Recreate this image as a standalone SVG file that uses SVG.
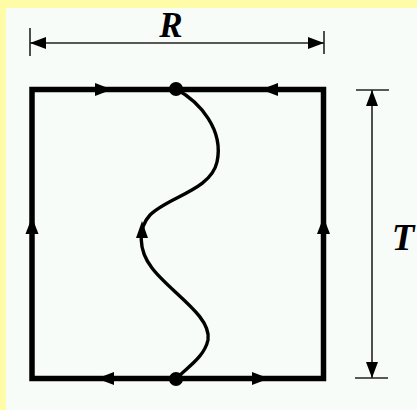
<svg xmlns="http://www.w3.org/2000/svg" width="417" height="410" viewBox="0 0 417 410">
<defs>
<style>
.frame{fill:none;stroke:#000;stroke-width:5.5;stroke-linejoin:miter}
.curve{fill:none;stroke:#000;stroke-width:3.4}
.dim{fill:none;stroke:#222;stroke-width:1.6}
.lbl{font-family:"Liberation Serif",serif;font-style:italic;font-weight:bold;fill:#000}
.ah{fill:#000}
</style>
<marker id="dimA" viewBox="0 0 16 12" refX="16" refY="6" markerWidth="16" markerHeight="12" markerUnits="userSpaceOnUse" orient="auto-start-reverse">
<path d="M0,0 L16,6 L0,12 Z" fill="#000"/>
</marker>
</defs>
<rect width="417" height="410" fill="#fffca8"/>
<rect x="6" y="8" width="411" height="402" fill="#f8fcf8"/>
<g id="square">
<rect class="frame" x="32" y="89.5" width="291.5" height="289"/>
</g>
<g id="curve">
<path class="curve" d="M176,89 C200,102 224,130 217,162 C211,190 168,197 150,215 C138,228 138,250 152,268 C170,292 212,316 208,340 C204,358 186,368 176,379"/>
</g>
<g id="dots">
<circle cx="176" cy="89" r="7"/>
<circle cx="176" cy="379" r="7"/>
</g>
<g id="connectors">
<path class="ah" d="M112,89.5 L95,83 L95,96 Z"/>
<path class="ah" d="M261,89.5 L278,83 L278,96 Z"/>
<path class="ah" d="M97,378.5 L114,372 L114,385 Z"/>
<path class="ah" d="M269,378.5 L252,372 L252,385 Z"/>
<path class="ah" d="M32,217 L25.5,234 L38.5,234 Z"/>
<path class="ah" d="M323.5,217 L317,234 L330,234 Z"/>
<path class="ah" d="M142,221 L136,238 L148,238 Z"/>
</g>
<g id="dimR">
<line class="dim" x1="30" y1="28" x2="30" y2="56"/>
<line class="dim" x1="324" y1="31" x2="324" y2="54"/>
<line class="dim" x1="30" y1="43" x2="324" y2="43" marker-start="url(#dimA)" marker-end="url(#dimA)"/>
<text class="lbl" x="171" y="37" font-size="35" text-anchor="middle">R</text>
</g>
<g id="dimT">
<line class="dim" x1="356" y1="90" x2="389" y2="90"/>
<line class="dim" x1="355" y1="378" x2="388" y2="378"/>
<line class="dim" x1="372" y1="90" x2="372" y2="378" marker-start="url(#dimA)" marker-end="url(#dimA)"/>
<text class="lbl" x="403" y="250" font-size="37" text-anchor="middle">T</text>
</g>
</svg>
